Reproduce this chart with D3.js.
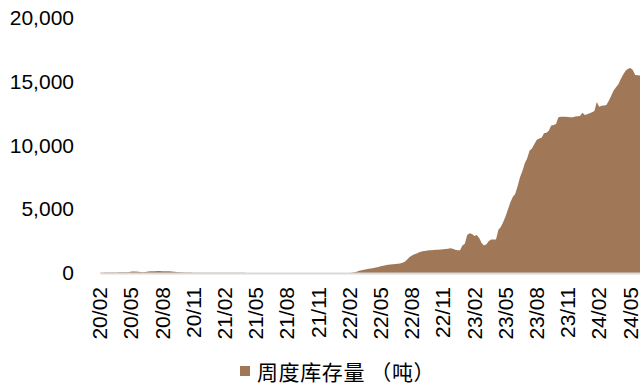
<!DOCTYPE html>
<html>
<head>
<meta charset="utf-8">
<script src="https://cdn.jsdelivr.net/npm/d3@7"></script>
<style>
  html, body { margin: 0; padding: 0; background: #fff; }
  svg { display: block; }
</style>
</head>
<body>
<svg id="chart" width="640" height="383"></svg>
<script>
// Weekly inventory (tonnes), one value per Friday starting 2020-02-07
const firstWeek = new Date(2020, 1, 7);
const stock2020 = [20,20,30,30,30,40,40,40,50,50,50,60,60,
  110,120,110,90,70,60,80,
  120,130,140,140,150,150,140,140,130,130,120,100,
  80,60,50,40,40,30,30,20,20,
  10,10,10,10,10,10];
const stock2021 = [10,10,10,10,10,10,10,10,10,10,10,10,10,10,
  0,0,0,0,0,0,0,0,0,0,0,0,0,0,0,0,0,0,0,0,0,0,0,0,0,0,0,0,0,0,0,0,0,0,0,0,0,0,0];
const stock2022 = [0,0,0,0,0,
  20,60,100,170,210,250,290,330,360,400,440,480,530,570,610,650,670,690,700,720,745,
  800,885,1050,1250,1380,1470,1530,1630,1680,1720,1750,1780,1790,1800,1820,1830,1850,
  1860,1880,1900,1930,1900,1830,1790,1790,2150];
const stock2023 = [2300,2980,3110,3050,2900,2970,2750,2350,2150,2250,2500,2620,2620,2630,
  3380,3600,4000,4450,5000,5550,5950,6200,6800,7500,8000,8600,9000,9600,9750,10100,
  10450,10550,10600,10950,11000,11150,11550,11600,11680,12200,12250,12250,12250,12230,
  12200,12200,12260,12280,12300,12560,12380,12450];
const stock2024 = [12520,12600,12700,13400,13030,13100,13120,13160,13500,13900,14300,
  14550,14800,15200,15550,15850,16000,16060,15900,15520,15500,15480];

const yTicks = [0, 5000, 10000, 15000, 20000];
const seriesName = "周度库存量 （吨）";
const labelEvery = 13;

const values = [].concat(stock2020, stock2021, stock2022, stock2023, stock2024);
const data = values.map((v, i) => ({ date: d3.timeDay.offset(firstWeek, 7 * i), value: v }));

const fill = "#A07858";
const svg = d3.select("#chart");

const x = d3.scalePoint()
  .domain(data.map(d => d.date))
  .range([100, 640]);

const y = d3.scaleLinear()
  .domain([0, 20000])
  .range([273, 17.8]);

// filled inventory area
const area = d3.area()
  .x(d => x(d.date))
  .y0(y(0))
  .y1(d => y(d.value));

svg.append("path")
  .datum(data)
  .attr("d", area)
  .attr("fill", fill);

// value axis: labels only
const yAxis = svg.append("g")
  .attr("transform", "translate(100,0)")
  .call(d3.axisLeft(y).tickValues(yTicks).tickSize(0).tickPadding(26).tickFormat(d3.format(",")));
yAxis.select(".domain").remove();
yAxis.selectAll("text")
  .attr("font-family", "'Liberation Sans', Arial, sans-serif")
  .attr("font-size", 21)
  .attr("fill", "#000");

// date axis: every 13th week, vertical labels
const tickDates = data.filter((d, i) => i % labelEvery === 0).map(d => d.date);
const xAxis = svg.append("g")
  .attr("transform", `translate(0,${y(0)})`)
  .call(d3.axisBottom(x).tickValues(tickDates).tickSize(0).tickFormat(d3.timeFormat("%y/%m")));
xAxis.select(".domain")
  .attr("stroke", "#d9d9d9")
  .attr("stroke-width", 2);
xAxis.selectAll("text")
  .attr("font-family", "'Liberation Sans', Arial, sans-serif")
  .attr("font-size", 21)
  .attr("fill", "#000")
  .attr("transform", "rotate(-90)")
  .attr("x", -14)
  .attr("y", 0)
  .attr("dy", "0.32em")
  .attr("text-anchor", "end");

// legend
const legend = svg.append("g").attr("transform", "translate(240,366)");
legend.append("rect")
  .attr("width", 10).attr("height", 10)
  .attr("fill", fill);
legend.append("text")
  .attr("x", 17).attr("y", 5)
  .attr("dominant-baseline", "central")
  .attr("font-family", "'Noto Sans CJK SC', sans-serif")
  .attr("font-size", 21)
  .attr("letter-spacing", 0.6)
  .attr("fill", "#000")
  .text(seriesName);
</script>
</body>
</html>
